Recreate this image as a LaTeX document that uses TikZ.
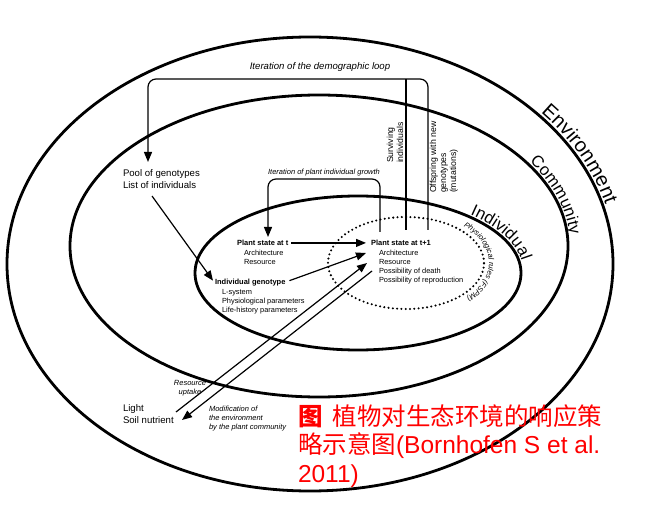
\documentclass[tikz,border=0pt]{standalone}
\usepackage{fontspec}
\setmainfont{Liberation Sans}
\newfontfamily\cjk{Noto Sans CJK SC}
\usetikzlibrary{arrows.meta,decorations.text,calc}
\newcommand{\fEnv}{\fontsize{20}{24}\selectfont}
\newcommand{\fCom}{\fontsize{16.5}{20}\selectfont}
\newcommand{\fPhys}{\fontsize{7.5}{9}\selectfont\itshape}
\begin{document}
\begin{tikzpicture}[x=1pt,y=1pt,
  ell/.style={line width=2.8pt},
  dots/.style={line width=2.3pt, dash pattern=on 0pt off 4.3pt, line cap=round},
  conn/.style={line width=1.2pt},
  arr/.style={conn,-{Triangle[length=10pt,width=8pt]}},
  txt/.style={inner sep=0pt, outer sep=0pt},
  big/.style={txt, font=\fontsize{9.6}{12}\selectfont, align=left, anchor=base west},
  head/.style={txt, font=\fontsize{7.5}{9}\selectfont\bfseries, anchor=base west},
  sub/.style={txt, font=\fontsize{7.4}{9.2}\selectfont, align=left, anchor=base west},
  ital/.style={txt, font=\fontsize{7.5}{9}\selectfont\itshape},
  vert/.style={txt, font=\fontsize{8.7}{10}\selectfont, align=left, anchor=base west, rotate=90},
  capt/.style={txt, font=\fontsize{24.5}{28.5}\selectfont, text=red, align=left, anchor=base west}
]
\useasboundingbox (0,0) rectangle (652,517);

% nested ellipses
\draw[ell] (310,253) ellipse[x radius=303, y radius=227];
\draw[ell] (319,271) ellipse[x radius=249, y radius=151];
\draw[ell] (358,244) ellipse[x radius=163, y radius=77];
\draw[dots] (406,254) ellipse[x radius=78, y radius=46];

% labels along the ellipses
\path[decorate, decoration={text along path, text={|\fEnv|Environment}, text align=left, raise=3pt}]
  (310,253) ++(41:303 and 227) arc[start angle=41, end angle=-10, x radius=303, y radius=227];
\path[decorate, decoration={text along path, text={|\fCom|Community}, text align=left, raise=2.5pt}]
  (319,271) ++(33:249 and 151) arc[start angle=33, end angle=-20, x radius=249, y radius=151];
\path[decorate, decoration={text along path, text={|\fCom|Individual}, text align=left, raise=2.5pt}]
  (358,244) ++(47:163 and 77) arc[start angle=47, end angle=-20, x radius=163, y radius=77];
\path[decorate, decoration={text along path, text={|\fPhys|Physiological rules (FSPM)}, text align=left, raise=0pt}]
  (406,254) ++(46:83 and 51) arc[start angle=46, end angle=-80, x radius=83, y radius=51];

% text nodes (multi-line nodes: base = last line)
\node[ital, font=\fontsize{9.6}{12}\selectfont\itshape, anchor=base] (demo) at (320,447.5) {Iteration of the demographic loop};
\node[ital, anchor=base] (growth) at (324,342.3) {Iteration of plant individual growth};
\node[big] (pool) at (123,328.5) {Pool of genotypes\\List of individuals};
\node[big] (light) at (123,93.5) {Light\\Soil nutrient};
\node[head] (pst) at (237,271.4) {Plant state at t};
\node[sub] (psta) at (244,252.4) {Architecture\\Resource};
\node[head] (pst1) at (371,271.4) {Plant state at t+1};
\node[sub] (pst1a) at (379,234.4) {Architecture\\Resource\\Possibility of death\\Possibility of reproduction};
\node[head] (ig) at (215,232.4) {Individual genotype};
\node[sub] (iga) at (222,204.4) {L-system\\Physiological parameters\\Life-history parameters};
\node[ital, align=center, anchor=base] (resup) at (190,122.3) {Resource\\uptake};
\node[ital, align=left, anchor=base west] (modif) at (209,87.3) {Modification of\\the environment\\by the plant community};
\node[vert] (surv) at (403,354) {Surviving\\individuals};
\node[vert] (offs) at (456,324) {Offspring with new\\genotypes\\(mutations)};
\node[capt] (cap) at (298,35) {{\cjk\bfseries 图}\hspace{10pt}{\cjk 植物对生态环境的响应策}\\{\cjk 略示意图}(Bornhofen S et al.\\2011)};

% connector end points
\coordinate (poolout) at (152,321);
\coordinate (poolin) at (148,355);
\coordinate (dA) at (428,287);
\coordinate (dB) at (406,287);
\coordinate (gA) at (380,285);
\coordinate (gT) at (268,280);
\coordinate (igT) at (366,264);
\coordinate (ruS) at (176,105);
\coordinate (ruE) at (367,254);
\coordinate (mdS) at (372,246);
\coordinate (mdE) at (182,97);

% demographic loop
\draw[arr, rounded corners=8pt] (dA) -- (428,438) -- (148,438) -- (poolin);
\draw[conn] (dB) -- (406,438);
% growth loop
\draw[arr, rounded corners=8pt] (gA) -- (380,338) -- (268,338) -- (gT);

% arrows
\draw[arr] (poolout) -- ([xshift=-2pt,yshift=2pt]ig.west);
\draw[arr] ([xshift=3pt]pst.east) -- ([xshift=-5pt]pst1.west);
\draw[arr] ([xshift=4pt,yshift=2pt]ig.east) -- (igT);
\draw[arr] (ruS) -- (ruE);
\draw[arr] (mdS) -- (mdE);
\end{tikzpicture}
\end{document}
